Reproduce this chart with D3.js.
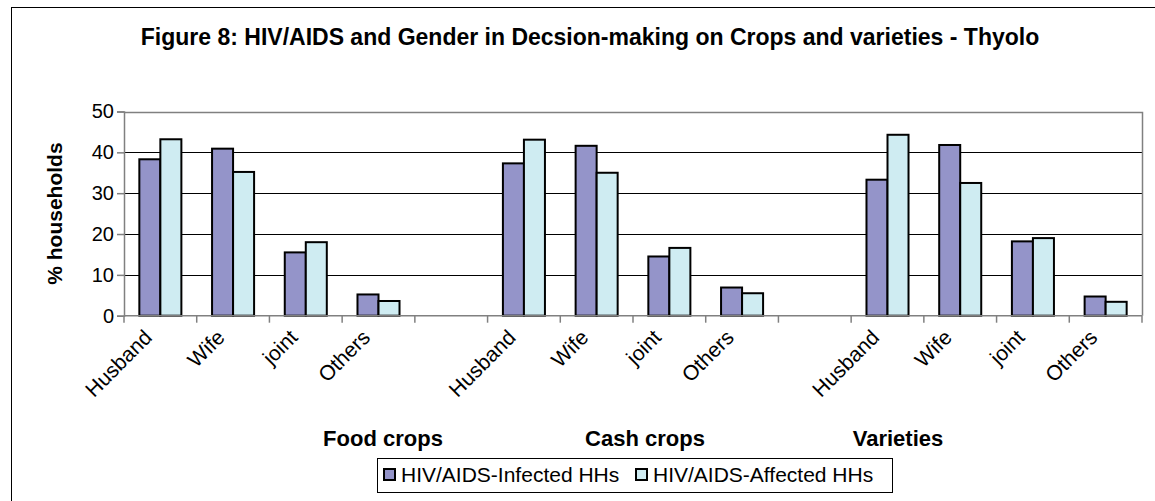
<!DOCTYPE html>
<html>
<head>
<meta charset="utf-8">
<script src="https://cdn.jsdelivr.net/npm/d3@7"></script>
<style>
  html, body { margin: 0; padding: 0; background: #fff; }
  svg { display: block; font-family: Arial, "Liberation Sans", sans-serif; }
</style>
</head>
<body>
<svg id="chart" width="1155" height="501"></svg>
<script>
// Decision-making categories, grouped by what is being decided on
const groups = ["Food crops", "Cash crops", "Varieties"];
const roles = ["Husband", "Wife", "joint", "Others"];
const seriesNames = ["HIV/AIDS-Infected HHs", "HIV/AIDS-Affected HHs"];

// % households, in group order (Husband, Wife, joint, Others per group)
const infected = [38.3, 40.9, 15.5, 5.2,  37.3, 41.6, 14.5, 6.9,  33.3, 41.8, 18.2, 4.7];
const affected = [43.2, 35.2, 18.0, 3.6,  43.1, 35.0, 16.6, 5.5,  44.3, 32.5, 19.0, 3.4];

const yTicks = [0, 10, 20, 30, 40, 50];

const colors = ["#9494c9", "#cfecf2"];

const svg = d3.select("#chart");
const W = 1155, H = 501;

svg.append("rect").attr("width", W).attr("height", H).attr("fill", "#fff");

// chart frame
svg.append("rect")
  .attr("x", 11.5).attr("y", 7.5)
  .attr("width", W + 20).attr("height", H + 20)
  .attr("fill", "none").attr("stroke", "#000").attr("stroke-width", 1);

// title
svg.append("text")
  .attr("x", 590).attr("y", 45)
  .attr("text-anchor", "middle")
  .attr("font-weight", "bold")
  .attr("font-size", 23)
  .text("Figure 8: HIV/AIDS and Gender in Decsion-making on Crops and varieties - Thyolo");

// build category slots: four roles per group with an empty slot between groups
const slots = [];
groups.forEach((g, gi) => {
  roles.forEach((r, ri) => slots.push({ key: g + "|" + r, group: g, role: r, i: gi * roles.length + ri }));
  if (gi < groups.length - 1) slots.push({ key: "gap" + gi, gap: true });
});

const plot = { left: 124, right: 1142, top: 111.5, bottom: 315.7 };

const x = d3.scaleBand().domain(slots.map(s => s.key)).range([plot.left, plot.right]).padding(0);
const xs = d3.scaleBand().domain([0, 1]).range([0, x.bandwidth()]).paddingInner(0).paddingOuter(0.73);
const y = d3.scaleLinear().domain([0, 50]).range([plot.bottom, plot.top]);

// gridlines
svg.append("g").selectAll("line")
  .data(yTicks.filter(t => t > 0 && t < 50))
  .join("line")
  .attr("x1", plot.left).attr("x2", plot.right)
  .attr("y1", d => Math.round(y(d)) + 0.5).attr("y2", d => Math.round(y(d)) + 0.5)
  .attr("stroke", "#000").attr("stroke-width", 1);

// plot area border (top and right)
svg.append("path")
  .attr("d", `M${plot.left},${Math.round(plot.top) + 0.5}H${plot.right + 0.5}V${plot.bottom}`)
  .attr("fill", "none").attr("stroke", "#808080").attr("stroke-width", 1.5);

// bars
const dataSlots = slots.filter(s => !s.gap);
const barG = svg.append("g");
[infected, affected].forEach((vals, si) => {
  barG.selectAll(null)
    .data(dataSlots)
    .join("rect")
    .attr("x", d => x(d.key) + xs(si))
    .attr("y", d => y(vals[d.i]))
    .attr("width", xs.bandwidth())
    .attr("height", d => y(0) - y(vals[d.i]))
    .attr("fill", colors[si])
    .attr("stroke", "#000")
    .attr("stroke-width", 2);
});

// y axis
const yAxis = svg.append("g")
  .attr("transform", `translate(${plot.left},0)`)
  .call(d3.axisLeft(y).tickValues(yTicks).tickSize(7).tickPadding(3));
yAxis.select(".domain").attr("stroke", "#808080").attr("stroke-width", 1.5);
yAxis.selectAll(".tick line").attr("stroke", "#808080").attr("stroke-width", 1.5);
yAxis.selectAll(".tick text").attr("font-size", 20).attr("fill", "#000").attr("font-family", "Arial, 'Liberation Sans', sans-serif");

// y axis title
svg.append("text")
  .attr("transform", `translate(61.5,${(plot.top + plot.bottom) / 2}) rotate(-90)`)
  .attr("text-anchor", "middle")
  .attr("font-weight", "bold")
  .attr("font-size", 21)
  .text("% households");

// x axis: line plus tick marks at the slot boundaries
const xAxisG = svg.append("g");
xAxisG.append("line")
  .attr("x1", plot.left).attr("x2", plot.right)
  .attr("y1", plot.bottom).attr("y2", plot.bottom)
  .attr("stroke", "#808080").attr("stroke-width", 1.5);
const bounds = slots.map(s => x(s.key)).concat([plot.right]);
xAxisG.selectAll(".xt")
  .data(bounds)
  .join("line")
  .attr("x1", d => d).attr("x2", d => d)
  .attr("y1", plot.bottom).attr("y2", plot.bottom + 7)
  .attr("stroke", "#808080").attr("stroke-width", 1.5);

// rotated role labels
xAxisG.selectAll(".xl")
  .data(dataSlots)
  .join("text")
  .attr("text-anchor", "end")
  .attr("font-size", 21)
  .attr("transform", d => `translate(${x(d.key) + x.bandwidth() / 2 - 7},${plot.bottom + 23}) rotate(-45)`)
  .text(d => d.role);

// group labels
const groupX = [383, 645, 898];
svg.selectAll(".gl")
  .data(groups)
  .join("text")
  .attr("x", (d, i) => groupX[i])
  .attr("y", 446)
  .attr("text-anchor", "middle")
  .attr("font-weight", "bold")
  .attr("font-size", 22)
  .text(d => d);

// legend
const lg = svg.append("g");
lg.append("rect")
  .attr("x", 377.5).attr("y", 458.5).attr("width", 515).attr("height", 34)
  .attr("fill", "#fff").attr("stroke", "#000").attr("stroke-width", 1);
const legendX = [384, 636];
seriesNames.forEach((name, i) => {
  lg.append("rect")
    .attr("x", legendX[i]).attr("y", 469).attr("width", 11).attr("height", 11)
    .attr("fill", colors[i]).attr("stroke", "#000").attr("stroke-width", 2);
  lg.append("text")
    .attr("x", legendX[i] + 17).attr("y", 482)
    .attr("font-size", 21)
    .text(name);
});
</script>
</body>
</html>
